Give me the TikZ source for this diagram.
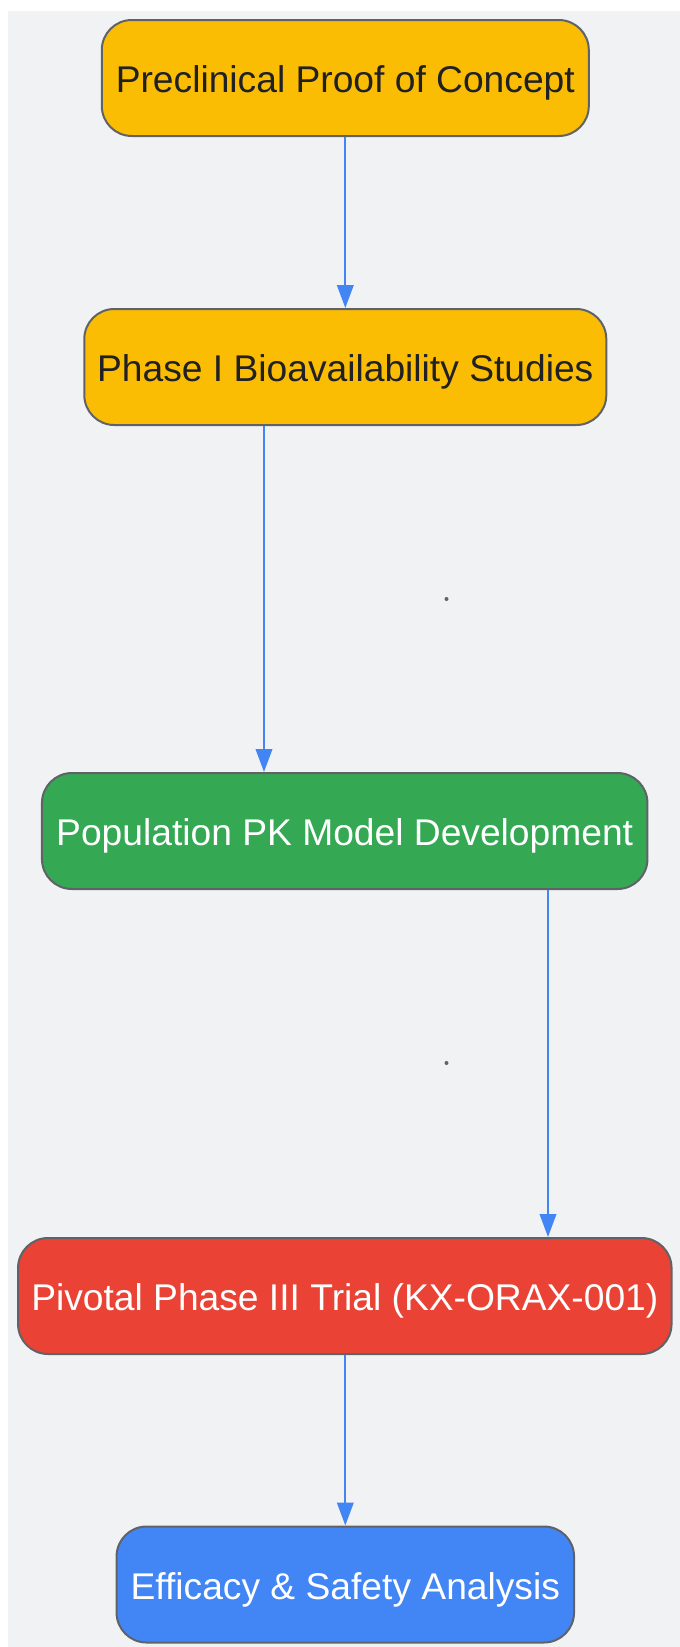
\documentclass[tikz,border=0pt]{standalone}
\usepackage{fontspec}
\setmainfont{Liberation Sans}
\usetikzlibrary{arrows.meta}
\definecolor{bg}{HTML}{F1F2F4}
\definecolor{gyellow}{HTML}{FBBC04}
\definecolor{ggreen}{HTML}{34A853}
\definecolor{gred}{HTML}{EA4335}
\definecolor{gblue}{HTML}{4285F4}
\definecolor{gborder}{HTML}{5F6368}
\definecolor{darktext}{HTML}{202124}
\tikzset{
  stage/.style={draw=gborder, line width=2pt, rounded corners=30pt, minimum height=116pt, inner sep=0pt,
    font=\fontsize{37.2}{45}\selectfont, text height=31.2pt, text depth=2pt},
  conn/.style={draw=gblue, line width=2.3pt, -{Triangle[length=23pt,width=16.5pt]}},
  dotmark/.style={circle, fill=gborder, inner sep=0pt, minimum size=4pt}
}
\begin{document}
\begin{tikzpicture}[x=1pt,y=-1pt]
\useasboundingbox (0,0) rectangle (680,1647);
\fill[bg] (8.4,10.5) rectangle (680,1647);
\node[stage, fill=gyellow, text=darktext, minimum width=487pt] (n1) at (345.3,78) {Preclinical Proof of Concept};
\node[stage, fill=gyellow, text=darktext, minimum width=522pt] (n2) at (345.3,367) {Phase I Bioavailability Studies};
\node[stage, fill=ggreen, text=white, minimum width=605.5pt] (n3) at (344.7,831) {Population PK Model Development};
\node[stage, fill=gred, text=white, minimum width=653.5pt] (n4) at (344.8,1296) {Pivotal Phase III Trial (KX-ORAX-001)};
\node[stage, fill=gblue, text=white, minimum width=457.5pt] (n5) at (345.3,1584.5) {Efficacy \& Safety Analysis};
\coordinate (c12) at (345.3,0);
\coordinate (c23) at (264,0);
\coordinate (c34) at (548,0);
\coordinate (c45) at (345.3,0);
\draw[conn] (n1.south -| c12) -- (n2.north -| c12);
\draw[conn] (n2.south -| c23) -- (n3.north -| c23);
\draw[conn] (n3.south -| c34) -- (n4.north -| c34);
\draw[conn] (n4.south -| c45) -- (n5.north -| c45);
\node[dotmark] (d1) at (446.5,599) {};
\node[dotmark] (d2) at (446.5,1063) {};
\end{tikzpicture}
\end{document}
